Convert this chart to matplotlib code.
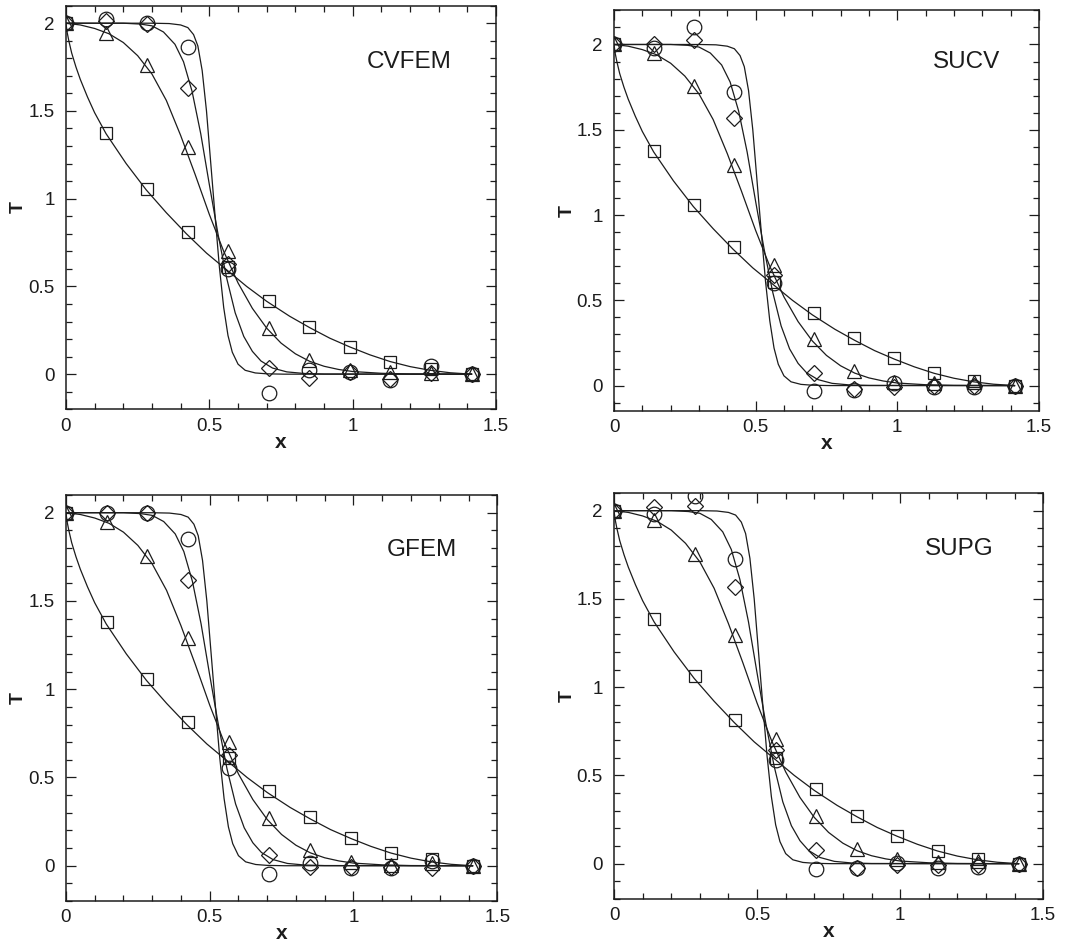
import matplotlib.pyplot as plt
from matplotlib.ticker import MultipleLocator, FuncFormatter

plt.rcParams['font.family'] = ['Liberation Sans', 'DejaVu Sans']

INK = '#1c1c1c'

# node positions along the diagonal (11 nodes)
x_nodes = [0.0, 0.1414, 0.2828, 0.4243, 0.5657, 0.7071, 0.8485, 0.9899, 1.1314, 1.2728, 1.4142]

# exact solutions for the four cases
exact_sq_x = [0, 0.004, 0.01, 0.02, 0.035, 0.05, 0.075, 0.10, 0.14, 0.21, 0.28, 0.35, 0.42,
              0.49, 0.56, 0.63, 0.70, 0.78, 0.85, 0.92, 0.99, 1.06, 1.13, 1.20, 1.27, 1.34, 1.414]
exact_sq_T = [2, 1.95, 1.90, 1.83, 1.75, 1.68, 1.58, 1.49, 1.37, 1.20, 1.05, 0.92, 0.80,
              0.69, 0.595, 0.50, 0.415, 0.33, 0.265, 0.205, 0.155, 0.11, 0.072, 0.043, 0.022, 0.008, 0]

exact_tri_x = [0, 0.05, 0.10, 0.15, 0.20, 0.25, 0.30, 0.35, 0.40, 0.45, 0.50, 0.55, 0.60,
               0.65, 0.70, 0.75, 0.80, 0.85, 0.90, 0.95, 1.00, 1.10, 1.20, 1.414]
exact_tri_T = [2, 1.99, 1.97, 1.94, 1.89, 1.815, 1.71, 1.56, 1.36, 1.14, 0.91, 0.70, 0.52,
               0.375, 0.262, 0.177, 0.116, 0.073, 0.045, 0.027, 0.015, 0.005, 0.001, 0]

exact_dia_x = [0, 0.20, 0.26, 0.30, 0.34, 0.38, 0.41, 0.44, 0.47, 0.50, 0.53, 0.56, 0.59,
               0.62, 0.65, 0.68, 0.72, 0.77, 0.83, 0.90, 1.414]
exact_dia_T = [2, 2, 1.995, 1.985, 1.95, 1.88, 1.78, 1.61, 1.37, 1.08, 0.80, 0.55, 0.35,
               0.215, 0.13, 0.075, 0.035, 0.013, 0.004, 0.001, 0]

exact_cir_x = [0, 0.30, 0.36, 0.40, 0.425, 0.445, 0.46, 0.475, 0.49, 0.505, 0.52, 0.535,
               0.55, 0.565, 0.58, 0.60, 0.625, 0.66, 0.70, 0.76, 1.414]
exact_cir_T = [2, 2, 1.998, 1.99, 1.975, 1.935, 1.87, 1.73, 1.50, 1.20, 0.90, 0.61,
               0.38, 0.22, 0.125, 0.057, 0.022, 0.007, 0.002, 0, 0]

# numerical results at the nodes, one block per scheme
cvfem_sq = [2, 1.376, 1.058, 0.811, 0.61, 0.419, 0.271, 0.157, 0.072, 0.028, 0]
cvfem_tri = [2, 1.945, 1.76, 1.295, 0.703, 0.262, 0.082, 0.025, 0.01, 0.006, 0]
cvfem_dia = [2, 2.01, 1.996, 1.632, 0.63, 0.034, -0.023, 0.015, -0.025, 0.006, 0]
cvfem_cir = [2, 2.025, 2.0, 1.864, 0.597, -0.108, 0.021, 0.015, -0.032, 0.044, 0]

sucv_sq = [2, 1.377, 1.059, 0.812, 0.61, 0.426, 0.277, 0.16, 0.076, 0.029, 0]
sucv_tri = [2, 1.95, 1.757, 1.295, 0.705, 0.271, 0.086, 0.023, 0.014, 0.023, 0]
sucv_dia = [2, 2.004, 2.029, 1.568, 0.65, 0.072, -0.021, -0.006, 0, 0, 0]
sucv_cir = [2, 1.977, 2.10, 1.723, 0.60, -0.03, -0.025, 0.013, -0.01, -0.01, 0]

gfem_sq = [2, 1.379, 1.058, 0.812, 0.61, 0.423, 0.278, 0.159, 0.074, 0.036, 0]
gfem_tri = [2, 1.949, 1.756, 1.288, 0.703, 0.272, 0.089, 0.023, 0.004, 0.017, 0]
gfem_dia = [2, 2.0, 2.0, 1.619, 0.627, 0.06, -0.006, -0.006, -0.006, -0.01, 0]
gfem_cir = [2, 2.0, 1.996, 1.849, 0.551, -0.049, 0.013, -0.01, -0.01, 0.028, 0]

supg_sq = [2, 1.386, 1.065, 0.814, 0.60, 0.421, 0.27, 0.157, 0.074, 0.025, 0]
supg_tri = [2, 1.947, 1.753, 1.296, 0.704, 0.272, 0.083, 0.026, 0.011, 0.017, 0]
supg_dia = [2, 2.02, 2.026, 1.569, 0.644, 0.077, -0.026, -0.008, -0.008, -0.008, 0]
supg_cir = [2, 1.979, 2.083, 1.726, 0.587, -0.03, -0.026, 0.002, -0.023, -0.017, 0]

schemes = ['CVFEM', 'SUCV', 'GFEM', 'SUPG']
scheme_data = [
    (cvfem_sq, cvfem_tri, cvfem_dia, cvfem_cir),
    (sucv_sq, sucv_tri, sucv_dia, sucv_cir),
    (gfem_sq, gfem_tri, gfem_dia, gfem_cir),
    (supg_sq, supg_tri, supg_dia, supg_cir),
]
y_limits = [(-0.2, 2.1), (-0.15, 2.2), (-0.2, 2.1), (-0.2, 2.1)]
label_pos = [(1.05, 1.78), (1.127, 1.90), (1.115, 1.79), (1.087, 1.78)]

axes_rects = [
    [0.061, 0.566, 0.398, 0.428],
    [0.568, 0.564, 0.393, 0.425],
    [0.061, 0.0445, 0.399, 0.4305],
    [0.568, 0.0467, 0.397, 0.4305],
]

markers = [('s', 9), ('^', 10), ('D', 8), ('o', 10.5)]
exact = [(exact_sq_x, exact_sq_T), (exact_tri_x, exact_tri_T),
         (exact_dia_x, exact_dia_T), (exact_cir_x, exact_cir_T)]

fmt = FuncFormatter(lambda v, pos: '%g' % round(v, 3))

fig = plt.figure(figsize=(10.81, 9.43), dpi=100)
for k in range(4):
    ax = fig.add_axes(axes_rects[k])
    for cx, cT in exact:
        ax.plot(cx, cT, color=INK, lw=0.9)
    for (m, ms), vals in zip(markers, scheme_data[k]):
        ax.plot(x_nodes, vals, linestyle='none', marker=m, ms=ms,
                mfc='none', mec=INK, mew=0.9)
    ax.set_xlim(0, 1.5)
    ax.set_ylim(*y_limits[k])
    ax.xaxis.set_major_locator(MultipleLocator(0.5))
    ax.xaxis.set_minor_locator(MultipleLocator(0.1))
    ax.yaxis.set_major_locator(MultipleLocator(0.5))
    ax.yaxis.set_minor_locator(MultipleLocator(0.1))
    ax.xaxis.set_major_formatter(fmt)
    ax.yaxis.set_major_formatter(fmt)
    ax.tick_params(which='both', direction='in', top=True, right=True,
                   color=INK, width=0.9, labelsize=13.5, labelcolor=INK)
    ax.tick_params(which='major', length=7)
    ax.tick_params(axis='x', which='major', pad=6)
    ax.tick_params(axis='y', which='major', pad=8)
    ax.tick_params(which='minor', length=4.5)
    for s in ax.spines.values():
        s.set_linewidth(1.1)
        s.set_color(INK)
    ax.set_xlabel('x', fontsize=15, fontweight='bold', color=INK, labelpad=-1.5)
    ax.set_ylabel('T', fontsize=14, fontweight='bold', color=INK, labelpad=1)
    tx, ty = label_pos[k]
    ax.text(tx, ty, schemes[k], fontsize=17.5, color=INK, ha='left', va='center')

fig.savefig('out.png', dpi=100)
